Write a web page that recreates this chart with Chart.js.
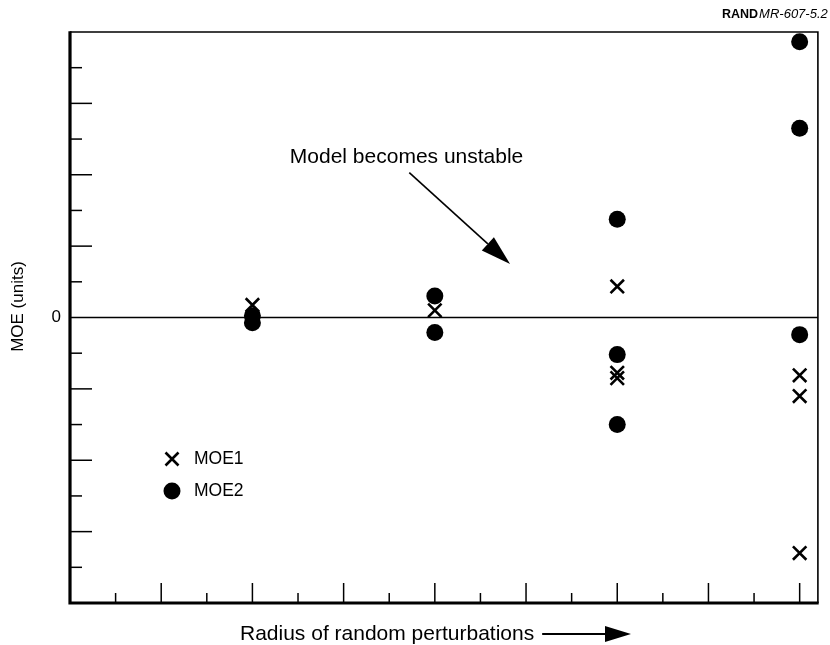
<!DOCTYPE html>
<html>
<head>
<meta charset="utf-8">
<script src="https://cdn.jsdelivr.net/npm/chart.js@4/dist/chart.umd.min.js"></script>
<style>
  html, body { margin: 0; padding: 0; background: #fff; }
  #wrap { width: 830px; height: 645px; }
</style>
</head>
<body>
<div id="wrap"><canvas id="c" width="830" height="645"></canvas></div>
<script>
// ---- Data ----
const seriesNames = ['MOE1', 'MOE2'];
const moe1X = [4, 8, 12, 12, 12, 16, 16, 16];
const moe1Y = [0.35, 0.2, 0.87, -1.55, -1.7, -1.62, -2.2, -6.6];
const moe2X = [4, 4, 8, 8, 12, 12, 12, 16, 16, 16];
const moe2Y = [0.05, -0.15, 0.6, -0.42, 2.75, -1.04, -3.0, 7.73, 5.3, -0.48];
const yTickValues = [-7, -6, -5, -4, -3, -2, -1, 0, 1, 2, 3, 4, 5, 6, 7];
const yTickLabels = { 0: '0' };
const xTickValues = [1, 2, 3, 4, 5, 6, 7, 8, 9, 10, 11, 12, 13, 14, 15, 16];
const xTitle = 'Radius of random perturbations';
const yTitle = 'MOE (units)';
const annotationText = 'Model becomes unstable';
const annotationTextPos = [7.38, 4.5];
const annotationArrow = [[7.44, 4.06], [9.65, 1.5]];
const sourceBold = 'RAND';
const sourceItalic = 'MR-607-5.2';

const FONT = '"Liberation Sans", Arial, Helvetica, sans-serif';

function toPts(xs, ys) { return xs.map((x, i) => ({ x: x, y: ys[i] })); }

const framePlugin = {
  id: 'frame',
  beforeDatasetsDraw(chart) {
    const ctx = chart.ctx;
    const a = chart.chartArea;
    const xs = chart.scales.x, ys = chart.scales.y;
    ctx.save();
    ctx.strokeStyle = '#000';
    // zero line
    ctx.lineWidth = 1.6;
    const y0 = ys.getPixelForValue(0);
    ctx.beginPath(); ctx.moveTo(a.left, y0); ctx.lineTo(a.right, y0); ctx.stroke();
    // y ticks (inward)
    ctx.lineWidth = 1.5;
    yTickValues.forEach(v => {
      if (v === 0) return;
      const py = ys.getPixelForValue(v);
      const len = (Math.abs(v) % 2 === 0) ? 22 : 12;
      ctx.beginPath(); ctx.moveTo(a.left, py); ctx.lineTo(a.left + len, py); ctx.stroke();
    });
    // x ticks (inward)
    xTickValues.forEach(v => {
      const px = xs.getPixelForValue(v);
      const len = (v % 2 === 0) ? 20 : 10;
      ctx.beginPath(); ctx.moveTo(px, a.bottom); ctx.lineTo(px, a.bottom - len); ctx.stroke();
    });
    // frame: thin top/right, thick left/bottom
    ctx.lineWidth = 1.6;
    ctx.beginPath();
    ctx.moveTo(a.left, a.top); ctx.lineTo(a.right, a.top); ctx.lineTo(a.right, a.bottom);
    ctx.stroke();
    ctx.lineWidth = 3.2;
    ctx.beginPath();
    ctx.moveTo(a.left, a.top - 0.8); ctx.lineTo(a.left, a.bottom); ctx.lineTo(a.right + 0.8, a.bottom);
    ctx.stroke();
    ctx.restore();
  },
  afterDraw(chart) {
    const ctx = chart.ctx;
    const a = chart.chartArea;
    const xs = chart.scales.x, ys = chart.scales.y;
    ctx.save();
    ctx.fillStyle = '#000';
    ctx.strokeStyle = '#000';
    // y tick label(s)
    ctx.font = '17px ' + FONT;
    ctx.textAlign = 'right';
    ctx.textBaseline = 'middle';
    Object.keys(yTickLabels).forEach(k => {
      ctx.fillText(yTickLabels[k], a.left - 9, ys.getPixelForValue(Number(k)));
    });
    // y title
    ctx.save();
    ctx.translate(18, ys.getPixelForValue(0) - 11);
    ctx.rotate(-Math.PI / 2);
    ctx.textAlign = 'center';
    ctx.textBaseline = 'middle';
    ctx.font = '17px ' + FONT;
    ctx.fillText(yTitle, 0, 0);
    ctx.restore();
    // x title + arrow
    ctx.font = '21px ' + FONT;
    ctx.textAlign = 'left';
    ctx.textBaseline = 'middle';
    const tx = 240, ty = 634;
    ctx.fillText(xTitle, tx, ty);
    const tw = ctx.measureText(xTitle).width;
    const ax0 = tx + tw + 8, axTip = 631;
    ctx.lineWidth = 2;
    ctx.beginPath(); ctx.moveTo(ax0, ty); ctx.lineTo(axTip - 20, ty); ctx.stroke();
    ctx.beginPath(); ctx.moveTo(axTip, ty); ctx.lineTo(axTip - 26, ty - 8); ctx.lineTo(axTip - 26, ty + 8); ctx.closePath(); ctx.fill();
    // annotation
    ctx.font = '21px ' + FONT;
    ctx.textAlign = 'center';
    ctx.textBaseline = 'middle';
    ctx.fillText(annotationText, xs.getPixelForValue(annotationTextPos[0]), ys.getPixelForValue(annotationTextPos[1]));
    const p0 = [xs.getPixelForValue(annotationArrow[0][0]), ys.getPixelForValue(annotationArrow[0][1])];
    const p1 = [xs.getPixelForValue(annotationArrow[1][0]), ys.getPixelForValue(annotationArrow[1][1])];
    const ang = Math.atan2(p1[1] - p0[1], p1[0] - p0[0]);
    const hl = 30, hw = 9;
    const bx = p1[0] - hl * Math.cos(ang), by = p1[1] - hl * Math.sin(ang);
    ctx.lineWidth = 1.6;
    ctx.beginPath(); ctx.moveTo(p0[0], p0[1]); ctx.lineTo(bx, by); ctx.stroke();
    ctx.beginPath();
    ctx.moveTo(p1[0], p1[1]);
    ctx.lineTo(bx + hw * Math.sin(ang), by - hw * Math.cos(ang));
    ctx.lineTo(bx - hw * Math.sin(ang), by + hw * Math.cos(ang));
    ctx.closePath(); ctx.fill();
    // legend
    const lx = 172, ly1 = 459, ly2 = 491;
    ctx.lineWidth = 2.6;
    const h = 6.5;
    ctx.beginPath();
    ctx.moveTo(lx - h, ly1 - h); ctx.lineTo(lx + h, ly1 + h);
    ctx.moveTo(lx - h, ly1 + h); ctx.lineTo(lx + h, ly1 - h);
    ctx.stroke();
    ctx.beginPath(); ctx.arc(lx, ly2, 8.5, 0, Math.PI * 2); ctx.fill();
    ctx.font = '17.5px ' + FONT;
    ctx.textAlign = 'left';
    ctx.textBaseline = 'middle';
    ctx.fillText(seriesNames[0], 194, ly1);
    ctx.fillText(seriesNames[1], 194, ly2);
    // source tag
    ctx.textAlign = 'left';
    ctx.textBaseline = 'alphabetic';
    ctx.font = 'bold 12.5px ' + FONT;
    const sx = 722, sy = 18;
    ctx.fillText(sourceBold, sx, sy);
    const bw = ctx.measureText(sourceBold).width;
    ctx.font = 'italic 13px ' + FONT;
    ctx.fillText(sourceItalic, sx + bw + 1, sy);
    ctx.restore();
  }
};

new Chart(document.getElementById('c'), {
  type: 'scatter',
  data: {
    datasets: [
      {
        label: seriesNames[0],
        data: toPts(moe1X, moe1Y),
        pointStyle: 'crossRot',
        pointRadius: 9.5,
        pointHoverRadius: 9.5,
        borderColor: '#000',
        backgroundColor: '#000',
        pointBorderWidth: 2.6,
        borderWidth: 2.6,
        clip: false
      },
      {
        label: seriesNames[1],
        data: toPts(moe2X, moe2Y),
        pointStyle: 'circle',
        pointRadius: 8.5,
        pointHoverRadius: 8.5,
        borderColor: '#000',
        backgroundColor: '#000',
        pointBorderWidth: 0,
        borderWidth: 0,
        clip: false
      }
    ]
  },
  options: {
    responsive: false,
    animation: false,
    devicePixelRatio: 1,
    layout: { padding: { left: 70, right: 4, top: 32, bottom: 42 } },
    plugins: { legend: { display: false }, tooltip: { enabled: false } },
    events: [],
    scales: {
      x: { type: 'linear', min: 0, max: 16.4, display: false },
      y: { type: 'linear', min: -8, max: 8, display: false }
    }
  },
  plugins: [framePlugin]
});
</script>
</body>
</html>
